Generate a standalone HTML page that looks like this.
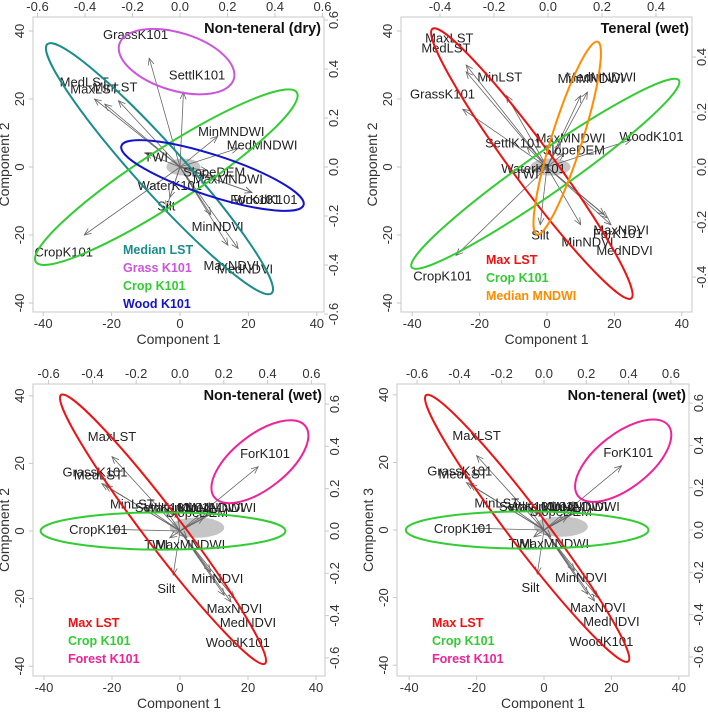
<!DOCTYPE html>
<html><head><meta charset="utf-8"><style>
body{margin:0;background:#fff;}
svg text{font-family:"Liberation Sans",sans-serif;}
</style></head><body>
<svg id="fig" width="708" height="709" viewBox="0 0 708 709" xmlns="http://www.w3.org/2000/svg">
<defs><marker id="ah" markerWidth="8" markerHeight="8" refX="7" refY="4" orient="auto" markerUnits="userSpaceOnUse"><path d="M0,1 L7,4 L0,7" fill="none" stroke="#666" stroke-width="0.8"/></marker></defs>
</svg>
<script>
// ---------- Panel 1: Non-teneral (dry) ----------
const p1Names=["GrassK101","SettlK101","MedLST","MaxLST","MinLST","MinMNDWI","MedMNDWI","TWI","SlopeDEM","MaxMNDWI","WaterK101","ForK101","WoodK101","Silt","MinNDVI","MaxNDVI","MedNDVI","CropK101"];
const p1X=[-9,1,-25,-22,-18,11,17,-10,8,10,-3,21,21,-4,9,14,17,-28];
const p1Y=[32,22,20,18.5,19.5,9,5.5,4,-1,-3,-9,-7.5,-7.5,-12,-14,-23,-24,-20];
const p1LX=[-13,5,-28,-25,-19,15,24,-7,10,14,-3,22,25,-4,11,15,19,-34];
const p1LY=[39,27,25,23,23.5,10.5,6.5,3,-1.5,-3.5,-5.5,-9.5,-9.5,-11.5,-17.5,-29,-30,-25];
const p1Ell=[[-6,-0.5,49,7,-48,"#1a8c8c"],[-1,31,17.5,8.5,-17,"#cc55dd"],[-4,-3,45.5,8,33,"#33cc33"],[9.5,-2.5,28,6,-18,"#1414cc"]];
const p1Leg=["Median LST","Grass K101","Crop K101","Wood K101"];
const p1LegC=["#1a8c8c","#cc55dd","#33cc33","#1414cc"];
// ---------- Panel 2: Teneral (wet) ----------
const p2Names=["MaxLST","MedLST","MinLST","GrassK101","MedMNDWI","MinMNDWI","SettlK101","MaxMNDWI","SlopeDEM","WoodK101","WaterK101","TWI","Silt","MinNDVI","MaxNDVI","ForK101","MedNDVI","CropK101"];
const p2X=[-24,-24,-12,-25,12,10,-6,4,5,25,-2,-4,-2,10,18,19,17,-27];
const p2Y=[30,28,21,17,22,21,6,7,4,8,0,-1,-17,-17,-15,-17,-14,-26];
const p2LX=[-29,-30,-14,-31,16,13,-10,7,8,31,-4,-6,-2,12,22,21,23,-31];
const p2LY=[38,35,26.5,21.5,26.5,26,7,8.5,5,9,-0.5,-2,-20,-22,-18.5,-19.5,-24.5,-32];
const p2Ell=[[-4.5,1,49.7,6,-53.6,"#ee1111"],[-0.5,-2,48.4,6,35,"#33cc33"],[6,8.5,30,4.5,72.5,"#ff8c00"]];
const p2Leg=["Max LST","Crop K101","Median MNDWI"];
const p2LegC=["#ee1111","#33cc33","#ff8c00"];
// ---------- Panels 3 & 4: Non-teneral (wet) ----------
const p3Names=["MaxLST","GrassK101","MedLST","MinLST","ForK101","CropK101","SettlK101","WaterK101","SlopeDEM","MinMNDWI","MedMNDWI","TWI","MaxMNDWI","Silt","MinNDVI","MaxNDVI","MedNDVI","WoodK101"];
const p3X=[-20,-23,-22,-10,23,-20,-4,-1,7,9,11,-3,2,-2,9,13,15,16];
const p3Y=[22,14,13.5,7,19,0.5,6,6,4,6,6,-2,-2,-13,-12,-19,-21,-20];
const p3LX=[-20,-25,-24,-14,25,-24,-5,-1,5,9,12,-7,3,-4,11,16,20,17];
const p3LY=[28,17.5,16.5,8,23,0.5,7,7,5.5,7,7,-4,-4,-17,-14,-23,-27,-33];
const p3Ell=[[-5,0.5,49.6,5.5,-52.8,"#ee1111"],[-5,0,36,5.5,0,"#33cc33"],[23.5,20.5,17,8,38,"#ee2299"]];
const p3Leg=["Max LST","Crop K101","Forest K101"];
const p3LegC=["#ee1111","#33cc33","#ee2299"];
const bottomTicks=[-40,-20,0,20,40];
const leftTicks=[-40,-20,0,20,40];
const top6=[-0.6,-0.4,-0.2,0.0,0.2,0.4,0.6];
const top4=[-0.4,-0.2,0.0,0.2,0.4];

const NS="http://www.w3.org/2000/svg";
const fig=document.getElementById('fig');
function mk(tag,attrs,parent,txt){const e=document.createElementNS(NS,tag);for(const k in attrs)e.setAttribute(k,attrs[k]);if(txt!==undefined)e.textContent=txt;parent.appendChild(e);return e;}

function panel(cfg){
  const g=mk('g',{},fig);
  
  
  const sx=v=>cfg.ox+v*cfg.kx, sy=v=>cfg.oy-v*cfg.ky;
  const box=mk('rect',{x:cfg.bx0,y:cfg.by0,width:cfg.bx1-cfg.bx0,height:cfg.by1-cfg.by0,fill:'none',stroke:'#c8c8c8','stroke-width':1},g);
  
  
  bottomTicks.forEach(t=>{const x=sx(t);
    mk('line',{x1:x,x2:x,y1:cfg.by1,y2:cfg.by1+4,stroke:'#c8c8c8'},g);
    const l=mk('text',{x:x,y:cfg.by1+16,'font-size':13,'text-anchor':'middle',fill:'#333'},g,String(t));
    
    });
  leftTicks.forEach(t=>{const y=sy(t);
    mk('line',{x1:cfg.bx0-4,x2:cfg.bx0,y1:y,y2:y,stroke:'#c8c8c8'},g);
    const l=mk('text',{x:cfg.bx0-9,y:y,'font-size':13,'text-anchor':'middle',fill:'#333',transform:`rotate(-90 ${cfg.bx0-9} ${y})`},g,String(t));
    
    });
  cfg.topT.forEach(t=>{const x=cfg.tx0+t/0.2*cfg.tk;
    mk('line',{x1:x,x2:x,y1:cfg.by0-4,y2:cfg.by0,stroke:'#c8c8c8'},g);
    const l=mk('text',{x:x,y:cfg.by0-6,'font-size':13,'text-anchor':'middle',fill:'#333'},g,t.toFixed(1));
    
    });
  cfg.rightT.forEach(t=>{const y=cfg.ry0-t/0.2*cfg.rk;
    mk('line',{x1:cfg.bx1,x2:cfg.bx1+4,y1:y,y2:y,stroke:'#c8c8c8'},g);
    const l=mk('text',{x:cfg.bx1+14,y:y,'font-size':13,'text-anchor':'middle',fill:'#333',transform:`rotate(-90 ${cfg.bx1+14} ${y})`},g,t.toFixed(1));
    
    });
  const xt=mk('text',{x:(cfg.bx0+cfg.bx1)/2,y:cfg.by1+32,'font-size':14,'text-anchor':'middle',fill:'#333'},g,'Component 1');
  
  
  const yx=cfg.bx0-24, yy=(cfg.by0+cfg.by1)/2;
  const yt=mk('text',{x:yx,y:yy,'font-size':14,'text-anchor':'middle',fill:'#333',transform:`rotate(-90 ${yx} ${yy})`},g,cfg.ylab);
  
  
  const cl=mk('ellipse',{cx:sx(cfg.cloud[0]),cy:sy(cfg.cloud[1]),rx:cfg.cloud[2]*cfg.kx,ry:cfg.cloud[3]*cfg.ky,fill:'#bbb',opacity:0.85},g);
  
  
  cfg.names.forEach((n,i)=>{
    const a=mk('line',{x1:sx(0),y1:sy(0),x2:sx(cfg.X[i]),y2:sy(cfg.Y[i]),stroke:'#666','stroke-width':0.8,'marker-end':'url(#ah)'},g);
    
    
  });
  cfg.names.forEach((n,i)=>{
    const t=mk('text',{x:sx(cfg.LX[i]),y:sy(cfg.LY[i])+4.5,'font-size':13,'text-anchor':'middle',fill:'#222'},g,n);
    
    
  });
  cfg.ell.forEach(e=>{
    const el=mk('ellipse',{cx:sx(e[0]),cy:sy(e[1]),rx:e[2]*cfg.kx,ry:e[3]*cfg.ky,fill:'none',stroke:e[5],'stroke-width':2,transform:`rotate(${-e[4]} ${sx(e[0])} ${sy(e[1])})`},g);
    
    
  });
  const ti=mk('text',{x:cfg.bx1-3,y:cfg.by0+16,'font-size':14.5,'font-weight':'bold','text-anchor':'end',fill:'#111'},g,cfg.title);
  
  
  cfg.leg.forEach((s,i)=>{
    const t=mk('text',{x:cfg.legX,y:cfg.legY+i*18,'font-size':12.5,'font-weight':'bold',fill:cfg.legC[i]},g,s);
    
    
  });
}

panel({id:'panel-nonteneral-dry',ox:180,oy:167,kx:3.42,ky:3.4,bx0:33,bx1:324,by0:17,by1:312,tx0:180,tk:47.5,ry0:167,rk:49,topT:top6,rightT:top6,ylab:'Component 2',cloud:[1,0,5,2.5],names:p1Names,X:p1X,Y:p1Y,LX:p1LX,LY:p1LY,ell:p1Ell,title:'Non-teneral (dry)',leg:p1Leg,legC:p1LegC,legX:123,legY:254});
panel({id:'panel-teneral-wet',ox:547,oy:167,kx:3.37,ky:3.4,bx0:401,bx1:692,by0:17,by1:312,tx0:548,tk:54,ry0:167,rk:55,topT:top4,rightT:top4,ylab:'Component 2',cloud:[1,0,6,2.5],names:p2Names,X:p2X,Y:p2Y,LX:p2LX,LY:p2LY,ell:p2Ell,title:'Teneral (wet)',leg:p2Leg,legC:p2LegC,legX:486,legY:264});
panel({id:'panel-nonteneral-wet-c2',ox:180,oy:531,kx:3.4,ky:3.38,bx0:33,bx1:325,by0:384,by1:676,tx0:180,tk:43.8,ry0:531,rk:42.3,topT:top6,rightT:top6,ylab:'Component 2',cloud:[5,1,8,3],names:p3Names,X:p3X,Y:p3Y,LX:p3LX,LY:p3LY,ell:p3Ell,title:'Non-teneral (wet)',leg:p3Leg,legC:p3LegC,legX:68,legY:627});
panel({id:'panel-nonteneral-wet-c3',ox:544,oy:530,kx:3.37,ky:3.38,bx0:397,bx1:689,by0:384,by1:676,tx0:544,tk:42.3,ry0:530,rk:42.3,topT:top6,rightT:top6,ylab:'Component 3',cloud:[5,1,8,3],names:p3Names,X:p3X,Y:p3Y,LX:p3LX,LY:p3LY,ell:p3Ell,title:'Non-teneral (wet)',leg:p3Leg,legC:p3LegC,legX:432,legY:627});
</script>
</body></html>
